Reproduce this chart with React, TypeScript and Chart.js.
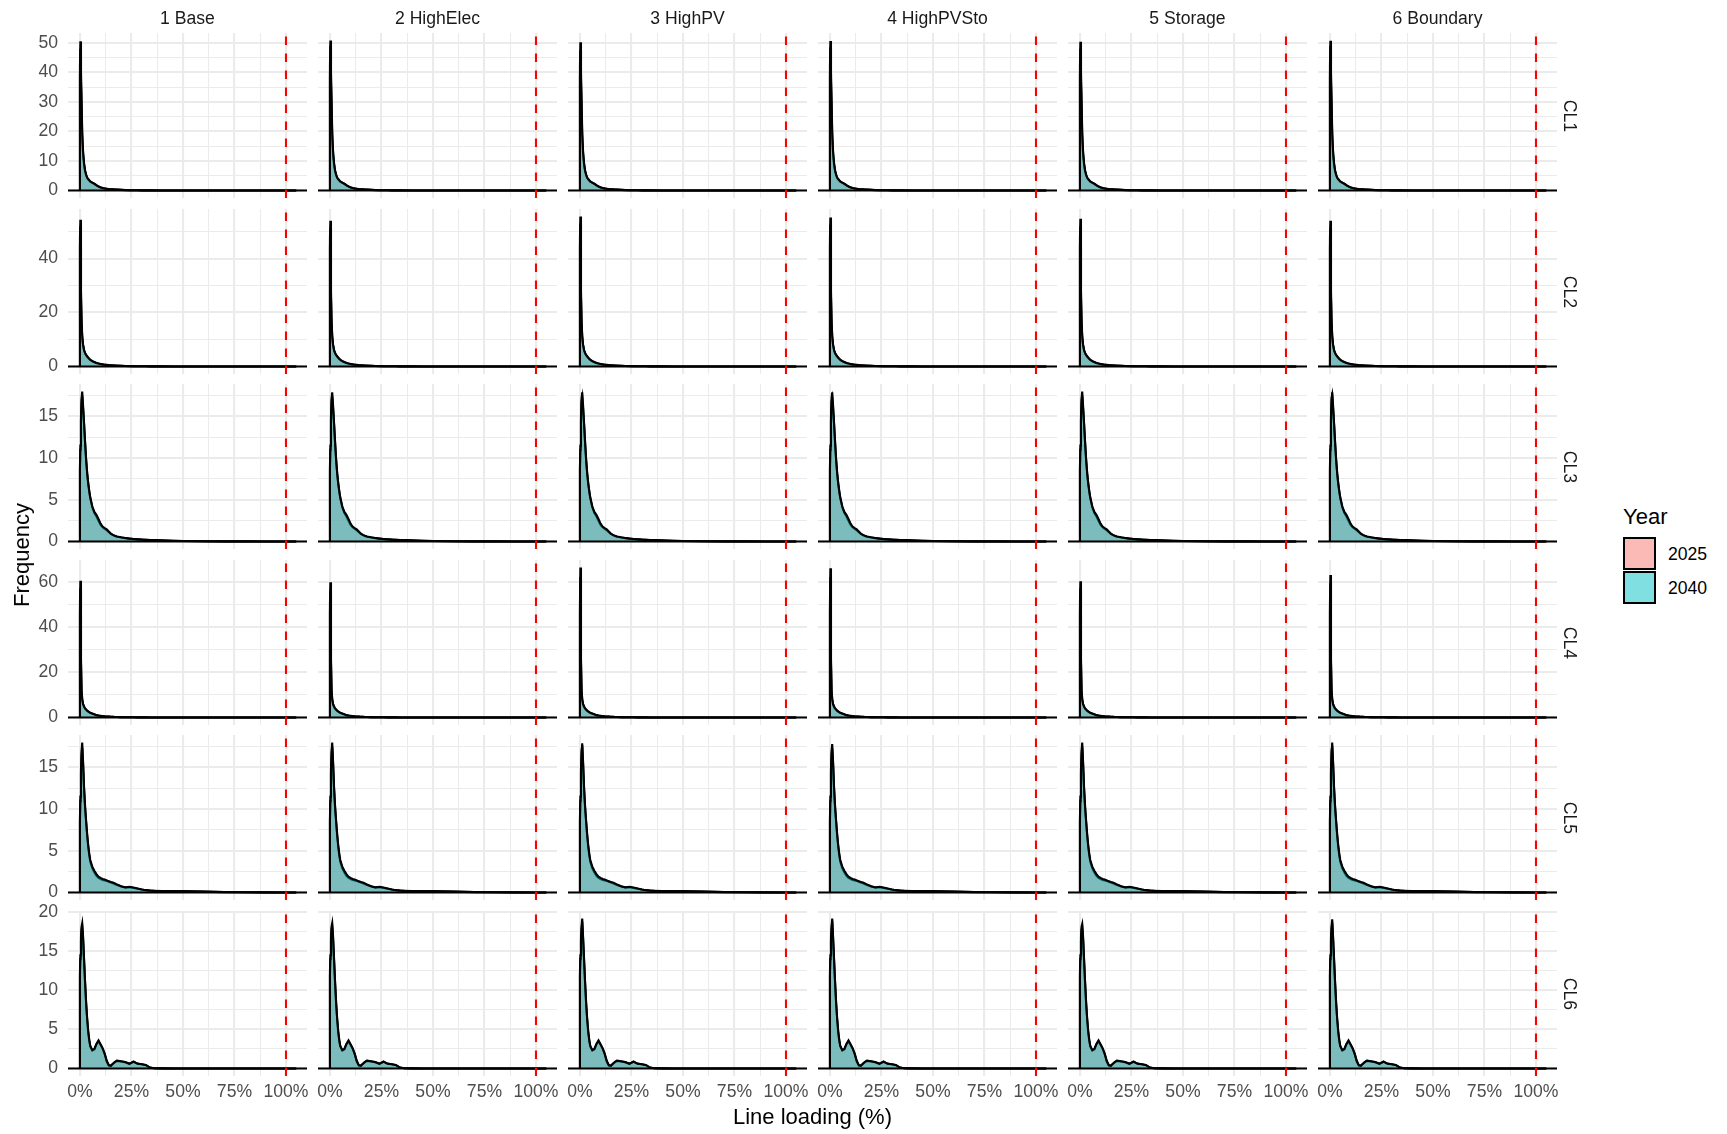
import React, { useEffect, useRef } from "react";
import { Chart, registerables } from "chart.js";

Chart.register(...registerables);

// ---------------- data ----------------
const scenarios = ["1 Base", "2 HighElec", "3 HighPV", "4 HighPVSto", "5 Storage", "6 Boundary"];
const clusters = ["CL1", "CL2", "CL3", "CL4", "CL5", "CL6"];
const years = ["2025", "2040"];
const yearColors = ["#F8766D", "#00BFC4"];

// line loading (fraction of rating) at which the density is sampled
const loadGrid = [
  0, 0.002, 0.005, 0.008, 0.011, 0.015, 0.02, 0.025, 0.03, 0.035,
  0.04, 0.045, 0.05, 0.06, 0.07, 0.08, 0.09, 0.1, 0.11, 0.12,
  0.13, 0.14, 0.15, 0.16, 0.17, 0.18, 0.2, 0.22, 0.24, 0.26,
  0.28, 0.3, 0.32, 0.34, 0.36, 0.4, 0.45, 0.5, 0.6, 0.7,
  0.8, 0.9, 1.0, 1.05,
];

const cl1_2025 = [38, 48, 37, 28, 18.5, 12.5, 8.8, 6.5, 5.2, 4.3, 3.8, 3.4, 3.0, 2.6, 2.3, 1.8, 1.4, 1.1, 0.88, 0.72, 0.6, 0.5, 0.42, 0.37, 0.32, 0.28, 0.2, 0.14, 0.1, 0.08, 0.06, 0.05, 0.04, 0.03, 0.02, 0.02, 0.01, 0.01, 0, 0, 0, 0, 0, 0];
const cl1_2040 = [42, 50.5, 40, 31, 20, 13.5, 9.3, 6.8, 5.4, 4.4, 3.9, 3.5, 3.1, 2.7, 2.25, 1.75, 1.35, 1.05, 0.85, 0.7, 0.6, 0.5, 0.42, 0.38, 0.33, 0.3, 0.22, 0.15, 0.1, 0.08, 0.06, 0.05, 0.04, 0.03, 0.03, 0.02, 0.01, 0.01, 0, 0, 0, 0, 0, 0];
const cl2_2025 = [44, 52, 26, 16, 11, 8.0, 6.0, 4.9, 4.2, 3.7, 3.2, 2.8, 2.45, 1.95, 1.6, 1.3, 1.1, 0.92, 0.78, 0.66, 0.58, 0.5, 0.44, 0.39, 0.34, 0.3, 0.24, 0.19, 0.15, 0.12, 0.1, 0.08, 0.07, 0.05, 0.04, 0.03, 0.02, 0.01, 0, 0, 0, 0, 0, 0];
const cl2_2040 = [47.5, 54.5, 28, 17, 11.5, 8.2, 6.1, 5.0, 4.3, 3.8, 3.3, 2.9, 2.5, 2.0, 1.65, 1.3, 1.1, 0.95, 0.8, 0.68, 0.6, 0.52, 0.46, 0.41, 0.36, 0.32, 0.25, 0.2, 0.16, 0.13, 0.1, 0.08, 0.07, 0.06, 0.05, 0.03, 0.02, 0.01, 0, 0, 0, 0, 0, 0];
const cl3_2025 = [8.5, 11, 14.5, 16.8, 17.6, 16, 14, 11.8, 9.8, 8.2, 7.0, 6.0, 5.2, 4.1, 3.4, 3.0, 2.5, 2.0, 1.7, 1.5, 1.35, 1.12, 0.9, 0.76, 0.65, 0.58, 0.48, 0.4, 0.34, 0.29, 0.25, 0.22, 0.2, 0.18, 0.16, 0.12, 0.09, 0.06, 0.03, 0.02, 0.01, 0.005, 0, 0];
const cl3_2040 = [9, 11.5, 15, 17.2, 18.1, 16.4, 14.2, 11.9, 9.8, 8.2, 7.0, 6.1, 5.3, 4.2, 3.55, 3.2, 2.7, 2.15, 1.8, 1.62, 1.45, 1.2, 0.95, 0.8, 0.68, 0.6, 0.5, 0.42, 0.35, 0.3, 0.26, 0.22, 0.2, 0.18, 0.16, 0.13, 0.09, 0.06, 0.03, 0.02, 0.01, 0.005, 0, 0];
const cl4_2025 = [46, 57, 24, 11.5, 8.0, 5.9, 4.7, 3.9, 3.4, 3.0, 2.6, 2.3, 2.05, 1.7, 1.35, 1.05, 0.85, 0.7, 0.6, 0.5, 0.44, 0.37, 0.32, 0.28, 0.24, 0.21, 0.16, 0.12, 0.1, 0.08, 0.06, 0.05, 0.04, 0.03, 0.02, 0.02, 0.01, 0.01, 0, 0, 0, 0, 0, 0];
const cl4_2040 = [50, 60.4, 26, 12, 8.2, 6.0, 4.8, 4.0, 3.5, 3.0, 2.7, 2.4, 2.1, 1.75, 1.4, 1.05, 0.85, 0.72, 0.62, 0.52, 0.45, 0.38, 0.33, 0.3, 0.25, 0.22, 0.17, 0.13, 0.1, 0.08, 0.06, 0.05, 0.04, 0.03, 0.03, 0.02, 0.01, 0.01, 0, 0, 0, 0, 0, 0];
const cl5_2025 = [8.5, 11, 14.3, 16.5, 17.5, 15.5, 12.4, 10.1, 8.4, 6.8, 5.5, 4.5, 3.7, 2.9, 2.4, 2.0, 1.75, 1.6, 1.5, 1.45, 1.4, 1.3, 1.2, 1.1, 1.0, 0.9, 0.72, 0.62, 0.62, 0.55, 0.45, 0.35, 0.28, 0.24, 0.21, 0.18, 0.16, 0.15, 0.1, 0.06, 0.03, 0.01, 0, 0];
const cl5_2040 = [9, 11.5, 14.8, 17, 18.0, 15.8, 12.6, 10.3, 8.6, 7.0, 5.7, 4.7, 3.9, 3.1, 2.6, 2.2, 1.9, 1.75, 1.62, 1.55, 1.45, 1.35, 1.25, 1.2, 1.1, 0.95, 0.75, 0.6, 0.68, 0.6, 0.48, 0.35, 0.28, 0.22, 0.2, 0.17, 0.15, 0.18, 0.1, 0.05, 0.03, 0.01, 0, 0];
const cl6_2025 = [11.8, 14, 16.3, 17.8, 18.3, 16.7, 13.8, 10.9, 8.3, 6.3, 4.7, 3.6, 2.85, 2.3, 2.45, 3.1, 3.5, 3.05, 2.55, 1.85, 0.95, 0.42, 0.38, 0.6, 0.82, 0.98, 0.9, 0.8, 0.6, 0.85, 0.62, 0.55, 0.42, 0.12, 0.04, 0.01, 0, 0, 0, 0, 0, 0, 0, 0];
const cl6_2040 = [12.4, 14.5, 16.8, 18.2, 18.7, 17.0, 14.0, 11.0, 8.4, 6.4, 4.8, 3.7, 2.9, 2.35, 2.5, 3.15, 3.6, 3.1, 2.6, 1.9, 0.95, 0.4, 0.35, 0.6, 0.85, 1.0, 0.92, 0.82, 0.6, 0.9, 0.6, 0.55, 0.45, 0.12, 0.04, 0.01, 0, 0, 0, 0, 0, 0, 0, 0];

// peak height of each panel (rows = clusters, columns = scenarios)
const peaks2025 = [
  [48, 49, 47.5, 48.5, 48, 49],
  [52, 51.5, 53, 52.5, 52, 51.5],
  [17.5, 17.4, 17.3, 17.2, 17.5, 17.9],
  [57, 56.5, 62, 62, 57, 59.5],
  [17.4, 17.5, 17.9, 17.3, 17.5, 18.0],
  [18.2, 18.2, 18.8, 18.9, 18.1, 18.7],
];
const peaks2040 = [
  [50.5, 50.8, 50.2, 50.6, 50.4, 50.7],
  [54.4, 54, 55.6, 55.2, 54.8, 54],
  [18.0, 17.9, 17.9, 17.9, 18.0, 17.6],
  [60.4, 59.8, 66.3, 66.0, 60.2, 63.0],
  [18.0, 18.0, 17.7, 17.8, 18.0, 17.6],
  [18.6, 18.6, 19.2, 19.2, 18.5, 19.1],
];

const yTickSteps = [10, 20, 5, 20, 5, 5];
const xTickValues = [0, 0.25, 0.5, 0.75, 1];
const xLimits = [-0.058, 1.102];
const overloadLimit = 1.0;
const baselineLevel = 0;

const seriesBase = [
  [cl1_2025, cl1_2040],
  [cl2_2025, cl2_2040],
  [cl3_2025, cl3_2040],
  [cl4_2025, cl4_2040],
  [cl5_2025, cl5_2040],
  [cl6_2025, cl6_2040],
];
const peakTables = [peaks2025, peaks2040];

// ---------------- layout ----------------
const FONT = "'Liberation Sans', Arial, sans-serif";
const PANEL_X0 = 68;
const COL_PITCH = 250;
const PANEL_W = 239;
const PANEL_Y0 = 33;
const ROW_PITCH = 175.6;
const PANEL_H = 165;
const PAD = 24;
const Y_AXIS_W = 60;
const X_AXIS_H = 40;
const TICK_SIZE = 17.6;
const TITLE_SIZE = 22;

const panelTop = (r: number) => Math.round(PANEL_Y0 + r * ROW_PITCH);
const panelLeft = (c: number) => PANEL_X0 + c * COL_PITCH;

function panelSeries(row: number, col: number, yi: number) {
  const base = seriesBase[row][yi];
  const peak = peakTables[yi][row][col];
  const peakIdx = base.indexOf(Math.max(...base));
  const pts = loadGrid.map((x, i) => ({ x, y: i === peakIdx ? peak : base[i] }));
  return [{ x: loadGrid[0], y: 0 }, ...pts];
}

function rowMax(row: number) {
  let m = 0;
  for (let c = 0; c < scenarios.length; c++) {
    for (let yi = 0; yi < years.length; yi++) {
      for (const p of panelSeries(row, c, yi)) m = Math.max(m, p.y);
    }
  }
  return m;
}

const near = (a: number, b: number) => Math.abs(a - b) < 1e-9;

function rgba(hex: string, a: number) {
  const n = parseInt(hex.slice(1), 16);
  return `rgba(${(n >> 16) & 255},${(n >> 8) & 255},${n & 255},${a})`;
}

const refLines = {
  id: "refLines",
  afterDatasetsDraw(chart: any) {
    const { ctx, chartArea, scales } = chart;
    const x = scales.x;
    const y = scales.y;
    ctx.save();
    ctx.beginPath();
    ctx.rect(chartArea.left, chartArea.top, chartArea.right - chartArea.left, chartArea.bottom - chartArea.top);
    ctx.clip();
    const y0 = y.getPixelForValue(baselineLevel);
    ctx.strokeStyle = "#000000";
    ctx.lineWidth = 2.1;
    ctx.beginPath();
    ctx.moveTo(chartArea.left, y0);
    ctx.lineTo(chartArea.right, y0);
    ctx.stroke();
    const xv = x.getPixelForValue(overloadLimit);
    ctx.strokeStyle = "#FF0000";
    ctx.lineWidth = 2.1;
    ctx.setLineDash([8.5, 8.5]);
    ctx.beginPath();
    ctx.moveTo(xv, chartArea.bottom);
    ctx.lineTo(xv, chartArea.top);
    ctx.stroke();
    ctx.restore();
  },
};

function Panel({ row, col }: { row: number; col: number }) {
  const ref = useRef<HTMLCanvasElement>(null);
  const isLeft = col === 0;
  const isBottom = row === clusters.length - 1;
  const yAxisW = isLeft ? Y_AXIS_W : 0;
  const xAxisH = isBottom ? X_AXIS_H : 0;
  const w = PAD * 2 + yAxisW + PANEL_W;
  const h = PAD * 2 + xAxisH + PANEL_H;
  const left = panelLeft(col) - PAD - yAxisW;
  const top = panelTop(row) - PAD;

  useEffect(() => {
    if (!ref.current) return;
    const m = rowMax(row);
    const yMin = -0.05 * m;
    const yMax = 1.05 * m;
    const step = yTickSteps[row];
    const yMajors: number[] = [];
    const yAll: number[] = [];
    for (let k = 0; k * step <= yMax + 1e-9; k++) {
      yMajors.push(k * step);
      yAll.push(k * step);
      if ((k + 0.5) * step <= yMax) yAll.push((k + 0.5) * step);
    }
    const xStep = xTickValues[1] - xTickValues[0];
    const xAll: number[] = [];
    xTickValues.forEach((v) => {
      xAll.push(v);
      if (v + xStep / 2 <= xLimits[1]) xAll.push(v + xStep / 2);
    });
    xAll.sort((a, b) => a - b);
    yAll.sort((a, b) => a - b);
    const isXMajor = (v: number) => xTickValues.some((t) => near(t, v));
    const isYMajor = (v: number) => yMajors.some((t) => near(t, v));

    const datasets = years
      .map((yr, yi) => ({
        label: yr,
        data: panelSeries(row, col, yi),
        borderColor: "#000000",
        borderWidth: 2.1,
        backgroundColor: rgba(yearColors[yi], 0.5),
        fill: "origin",
        pointRadius: 0,
        tension: 0,
        order: years.length - 1 - yi,
      }))
      .reverse();

    const chart = new Chart(ref.current, {
      type: "line",
      data: { datasets: datasets as any },
      options: {
        responsive: false,
        animation: false,
        devicePixelRatio: 1,
        events: [],
        layout: { padding: PAD },
        plugins: { legend: { display: false }, tooltip: { enabled: false }, title: { display: false } },
        scales: {
          x: {
            type: "linear",
            min: xLimits[0],
            max: xLimits[1],
            afterBuildTicks: (axis: any) => {
              axis.ticks = xAll.map((v) => ({ value: v }));
            },
            afterFit: (axis: any) => {
              axis.height = xAxisH;
            },
            grid: {
              color: "#EBEBEB",
              lineWidth: (ctx: any) => (ctx.tick && isXMajor(ctx.tick.value) ? 2.1 : 1.05),
              drawTicks: false,
            },
            border: { display: false },
            ticks: {
              display: isBottom,
              autoSkip: false,
              maxRotation: 0,
              minRotation: 0,
              padding: 6,
              color: "#4D4D4D",
              font: { family: FONT, size: TICK_SIZE },
              callback: (v: any) => (isXMajor(Number(v)) ? `${Math.round(Number(v) * 100)}%` : ""),
            },
          },
          y: {
            type: "linear",
            min: yMin,
            max: yMax,
            afterBuildTicks: (axis: any) => {
              axis.ticks = yAll.map((v) => ({ value: v }));
            },
            afterFit: (axis: any) => {
              axis.width = yAxisW;
            },
            grid: {
              color: "#EBEBEB",
              lineWidth: (ctx: any) => (ctx.tick && isYMajor(ctx.tick.value) ? 2.1 : 1.05),
              drawTicks: false,
            },
            border: { display: false },
            ticks: {
              display: isLeft,
              autoSkip: false,
              padding: 10,
              color: "#4D4D4D",
              font: { family: FONT, size: TICK_SIZE },
              callback: (v: any) => (isYMajor(Number(v)) ? String(Math.round(Number(v))) : ""),
            },
          },
        },
      } as any,
      plugins: [refLines],
    });
    return () => chart.destroy();
  }, [row, col]);

  return (
    <canvas
      ref={ref}
      width={w}
      height={h}
      style={{ position: "absolute", left, top, width: w, height: h }}
    />
  );
}

export default function App() {
  const panels: React.ReactNode[] = [];
  clusters.forEach((_, r) =>
    scenarios.forEach((__, c) => panels.push(<Panel key={`${r}-${c}`} row={r} col={c} />))
  );
  const areaTop = panelTop(0);
  const areaBottom = panelTop(clusters.length - 1) + PANEL_H;
  const areaLeft = panelLeft(0);
  const areaRight = panelLeft(scenarios.length - 1) + PANEL_W;

  return (
    <div
      style={{
        position: "absolute",
        left: 0,
        top: 0,
        width: 1727,
        height: 1134,
        overflow: "hidden",
        background: "#FFFFFF",
        fontFamily: FONT,
      }}
    >
      {panels}
      {scenarios.map((s, c) => (
        <div
          key={s}
          style={{
            position: "absolute",
            left: panelLeft(c),
            top: 8,
            width: PANEL_W,
            textAlign: "center",
            fontSize: TICK_SIZE,
            lineHeight: "20px",
            color: "#1A1A1A",
            whiteSpace: "nowrap",
          }}
        >
          {s}
        </div>
      ))}
      {clusters.map((cl, r) => (
        <div
          key={cl}
          style={{
            position: "absolute",
            left: 1570,
            top: panelTop(r) + PANEL_H / 2,
            transform: "translate(-50%, -50%) rotate(90deg)",
            fontSize: TICK_SIZE,
            lineHeight: "20px",
            color: "#1A1A1A",
            whiteSpace: "nowrap",
          }}
        >
          {cl}
        </div>
      ))}
      <div
        style={{
          position: "absolute",
          left: 22,
          top: (areaTop + areaBottom) / 2,
          transform: "translate(-50%, -50%) rotate(-90deg)",
          fontSize: TITLE_SIZE,
          lineHeight: "26px",
          color: "#000000",
          whiteSpace: "nowrap",
        }}
      >
        Frequency
      </div>
      <div
        style={{
          position: "absolute",
          left: areaLeft,
          width: areaRight - areaLeft,
          top: 1104,
          textAlign: "center",
          fontSize: TITLE_SIZE,
          lineHeight: "26px",
          color: "#000000",
          whiteSpace: "nowrap",
        }}
      >
        Line loading (%)
      </div>
      <div
        style={{
          position: "absolute",
          left: 1623,
          top: 504,
          fontSize: TITLE_SIZE,
          lineHeight: "26px",
          color: "#000000",
        }}
      >
        Year
      </div>
      {years.map((yr, i) => (
        <React.Fragment key={yr}>
          <div
            style={{
              position: "absolute",
              left: 1623,
              top: 537 + i * 34,
              width: 33,
              height: 33,
              boxSizing: "border-box",
              border: "2px solid #000000",
              background: rgba(yearColors[i], 0.5),
            }}
          />
          <div
            style={{
              position: "absolute",
              left: 1668,
              top: 544 + i * 34,
              fontSize: TICK_SIZE,
              lineHeight: "20px",
              color: "#000000",
            }}
          >
            {yr}
          </div>
        </React.Fragment>
      ))}
    </div>
  );
}
